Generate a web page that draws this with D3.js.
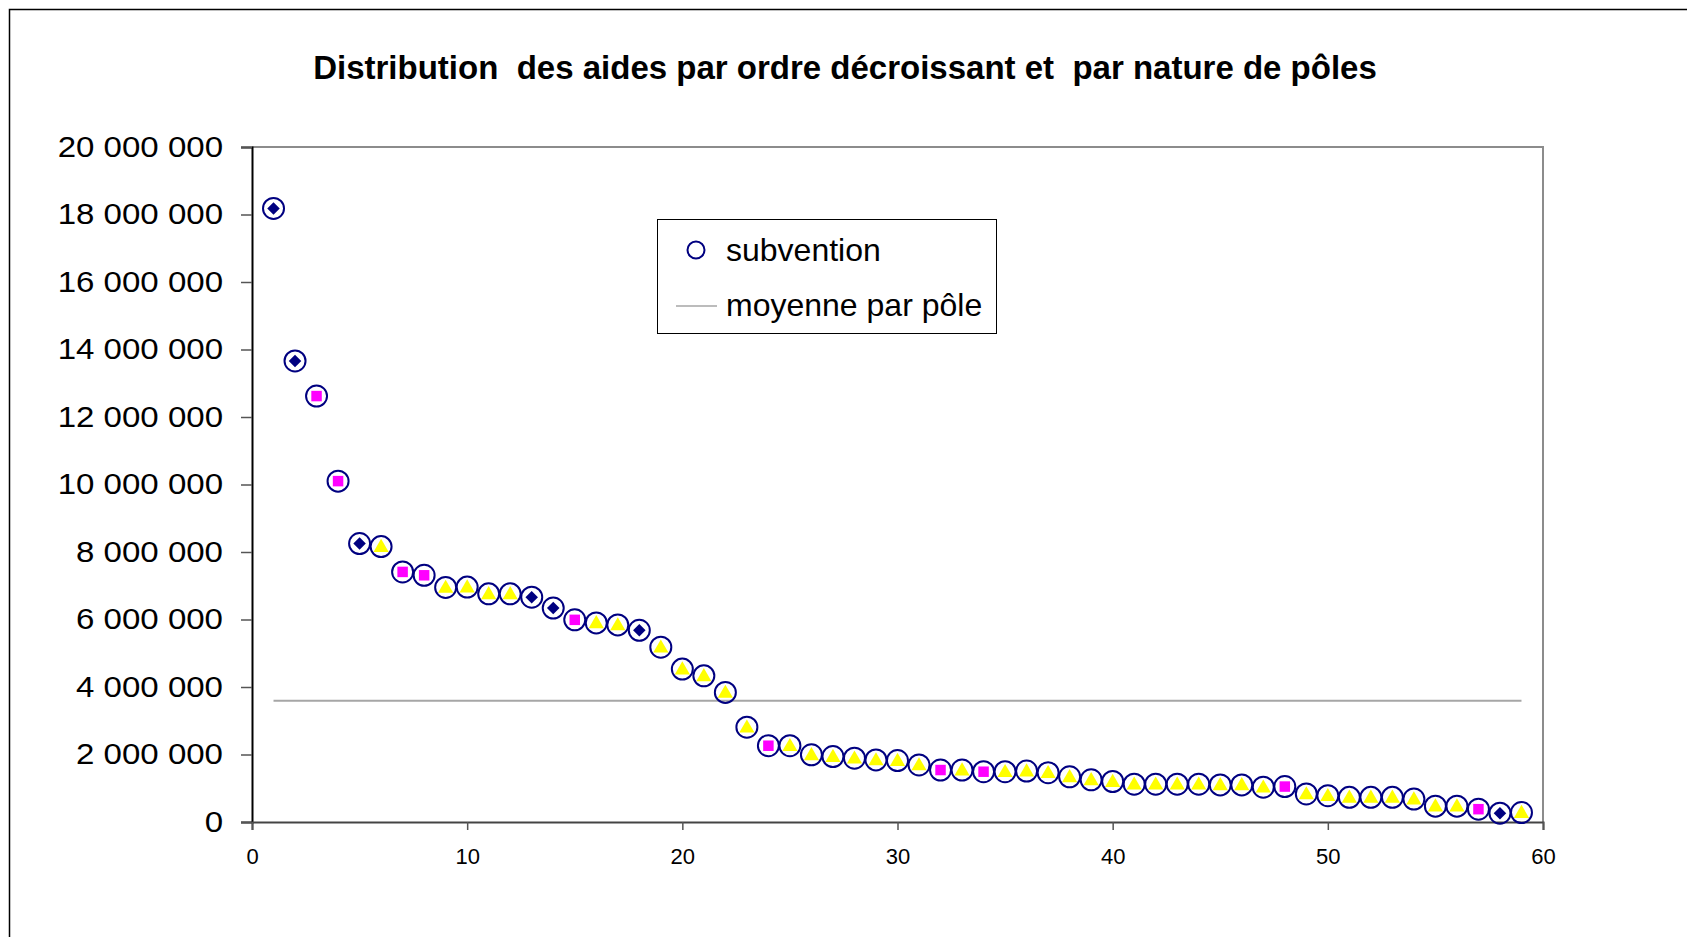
<!DOCTYPE html>
<html>
<head>
<meta charset="utf-8">
<script src="https://cdn.jsdelivr.net/npm/d3@7"></script>
<style>
  body { margin: 0; background: #fff; }
  text { font-family: "Liberation Sans", Arial, sans-serif; }
</style>
</head>
<body>
<div id="chart"></div>
<script>
// rang de l'aide (ordre décroissant)
const ranks = d3.range(1, 60);
// montant de la subvention
const subventions = [
  18180000, 13660000, 12620000, 10100000, 8250000, 8160000, 7410000, 7310000, 6950000, 6960000,
  6760000, 6760000, 6660000, 6340000, 5990000, 5900000, 5840000, 5680000, 5180000, 4530000,
  4330000, 3840000, 2810000, 2260000, 2260000, 1990000, 1940000, 1890000, 1840000, 1820000,
  1690000, 1540000, 1540000, 1490000, 1490000, 1510000, 1460000, 1340000, 1250000, 1200000,
  1120000, 1120000, 1120000, 1120000, 1100000, 1100000, 1030000, 1050000, 830000, 780000,
  730000, 730000, 730000, 680000, 470000, 470000, 380000, 260000, 280000
];
// nature du pôle : D = losange, S = carré, T = triangle
const natures = [
  "D","D","S","S","D","T","S","S","T","T",
  "T","T","D","D","S","T","T","D","T","T",
  "T","T","T","S","T","T","T","T","T","T",
  "T","S","T","S","T","T","T","T","T","T",
  "T","T","T","T","T","T","T","S","T","T",
  "T","T","T","T","T","T","S","D","T"
];
const moyenne = 3590000;
const yTicks = d3.range(0, 20000001, 2000000);
const xTicks = [0, 10, 20, 30, 40, 50, 60];

const W = 1691, H = 937;
const plotLeft = 252, plotRight = 1543, plotTop = 147, plotBottom = 822;

const svg = d3.select("#chart").append("svg")
  .attr("width", W)
  .attr("height", H);

// cadre extérieur
svg.append("path")
  .attr("d", `M9.5,${H}V9.5H1687`)
  .attr("fill", "none")
  .attr("stroke", "#000")
  .attr("stroke-width", 1.5);

svg.append("text")
  .attr("x", 845)
  .attr("y", 79)
  .attr("text-anchor", "middle")
  .attr("font-size", 33)
  .attr("font-weight", "bold")
  .style("white-space", "pre")
  .text("Distribution  des aides par ordre décroissant et  par nature de pôles");

const x = d3.scaleLinear().domain([0, 60]).range([plotLeft, plotRight]);
const y = d3.scaleLinear().domain([0, 20000000]).range([plotBottom, plotTop]);

const fr = d3.formatLocale({ decimal: ",", thousands: " ", grouping: [3] });
const fmt = fr.format(",d");

// bords haut et droit du tracé
svg.append("path")
  .attr("d", `M${plotLeft},${plotTop}H${plotRight}V${plotBottom}`)
  .attr("fill", "none")
  .attr("stroke", "#8c8c8c")
  .attr("stroke-width", 2);

const yAxis = svg.append("g")
  .attr("transform", `translate(${plotLeft},0)`)
  .call(d3.axisLeft(y).tickValues(yTicks).tickFormat(fmt).tickSize(11).tickPadding(17));
yAxis.select(".domain").attr("stroke", "#000").attr("stroke-width", 2);
yAxis.selectAll(".tick line").attr("stroke", "#555").attr("stroke-width", 1.5);
yAxis.selectAll(".tick text")
  .attr("font-size", 29.5)
  .attr("fill", "#000")
  .attr("font-family", "Liberation Sans, Arial, sans-serif")
  .attr("x", -29 / 1.12)
  .attr("transform", "scale(1.12,1)");

const xAxis = svg.append("g")
  .attr("transform", `translate(0,${plotBottom})`)
  .call(d3.axisBottom(x).tickValues(xTicks).tickSize(8).tickPadding(18));
xAxis.select(".domain").attr("stroke", "#444").attr("stroke-width", 2);
xAxis.selectAll(".tick line").attr("stroke", "#555").attr("stroke-width", 1.5);
xAxis.selectAll(".tick text")
  .attr("font-size", 22)
  .attr("fill", "#000")
  .attr("font-family", "Liberation Sans, Arial, sans-serif");

// moyenne par pôle
svg.append("line")
  .attr("x1", x(1)).attr("x2", x(59))
  .attr("y1", y(moyenne)).attr("y2", y(moyenne))
  .attr("stroke", "#a6a6a6")
  .attr("stroke-width", 2);

const points = ranks.map((r, i) => ({ rank: r, value: subventions[i], nature: natures[i] }));

svg.append("g").selectAll("circle")
  .data(points)
  .enter().append("circle")
  .attr("cx", d => x(d.rank))
  .attr("cy", d => y(d.value))
  .attr("r", 10.5)
  .attr("fill", "none")
  .attr("stroke", "#000080")
  .attr("stroke-width", 2);

const shapes = {
  D: { type: d3.symbolDiamond2, size: 100, color: "#000080" },
  S: { type: d3.symbolSquare, size: 110, color: "#ff00ff" },
  T: { type: d3.symbolTriangle, size: 100, color: "#ffff00" }
};

svg.append("g").selectAll("path")
  .data(points)
  .enter().append("path")
  .attr("transform", d => `translate(${x(d.rank)},${y(d.value) + (d.nature === "T" ? 1 : 0)})`)
  .attr("d", d => d3.symbol().type(shapes[d.nature].type).size(shapes[d.nature].size)())
  .attr("fill", d => shapes[d.nature].color);

// légende
const lg = svg.append("g");
lg.append("rect")
  .attr("x", 657.5).attr("y", 219.5)
  .attr("width", 339).attr("height", 114)
  .attr("fill", "#fff")
  .attr("stroke", "#000")
  .attr("stroke-width", 1);
lg.append("circle")
  .attr("cx", 696).attr("cy", 250)
  .attr("r", 8.5)
  .attr("fill", "none")
  .attr("stroke", "#000080")
  .attr("stroke-width", 2);
lg.append("line")
  .attr("x1", 676).attr("x2", 717)
  .attr("y1", 306).attr("y2", 306)
  .attr("stroke", "#a6a6a6")
  .attr("stroke-width", 1.5);
lg.append("text")
  .attr("x", 726).attr("y", 261)
  .attr("font-size", 32)
  .text("subvention");
lg.append("text")
  .attr("x", 726).attr("y", 316)
  .attr("font-size", 32)
  .text("moyenne par pôle");
</script>
</body>
</html>
